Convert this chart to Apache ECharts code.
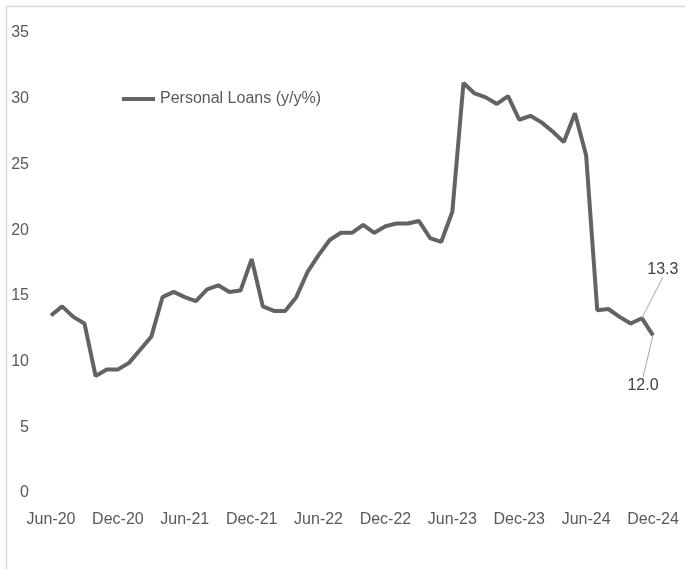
<!DOCTYPE html>
<html>
<head>
<meta charset="utf-8">
<script src="https://cdn.jsdelivr.net/npm/echarts@6/dist/echarts.min.js"></script>
<style>html,body{margin:0;padding:0;background:#fff}#c{width:685px;height:569px}</style>
</head>
<body>
<div id="c"></div>
<script>
const seriesName = 'Personal Loans (y/y%)';
const months = ['Jun-20','Jul-20','Aug-20','Sep-20','Oct-20','Nov-20','Dec-20',
'Jan-21','Feb-21','Mar-21','Apr-21','May-21','Jun-21','Jul-21','Aug-21','Sep-21','Oct-21','Nov-21','Dec-21',
'Jan-22','Feb-22','Mar-22','Apr-22','May-22','Jun-22','Jul-22','Aug-22','Sep-22','Oct-22','Nov-22','Dec-22',
'Jan-23','Feb-23','Mar-23','Apr-23','May-23','Jun-23','Jul-23','Aug-23','Sep-23','Oct-23','Nov-23','Dec-23',
'Jan-24','Feb-24','Mar-24','Apr-24','May-24','Jun-24','Jul-24','Aug-24','Sep-24','Oct-24','Nov-24','Dec-24'];
const values = [13.5,14.2,13.4,12.9,8.9,9.4,9.4,
9.9,10.9,11.9,14.9,15.3,14.9,14.6,15.5,15.8,15.3,15.4,17.8,
14.2,13.85,13.85,14.9,16.8,18.1,19.25,19.8,19.8,20.4,19.8,20.3,
20.5,20.5,20.7,19.4,19.1,21.4,31.2,30.4,30.1,29.6,30.2,28.4,
28.7,28.2,27.5,26.7,28.9,25.7,13.9,14.0,13.4,12.9,13.3,12.0];
const labelledIdx = [53, 54];
const yTicks = [0,5,10,15,20,25,30,35];

const FONT = '"Liberation Sans Narrow", "Liberation Sans", Arial, sans-serif';
const data = values.map((v, i) => {
  if (i === labelledIdx[0]) return {value: v, label: {show: true, position: 'top', distance: 0, formatter: v.toFixed(1)}};
  if (i === labelledIdx[1]) return {value: v, label: {show: true, position: 'bottom', distance: 0, formatter: v.toFixed(1)}};
  return v;
});

const chart = echarts.init(document.getElementById('c'), null, {renderer: 'canvas'});
chart.setOption({
  animation: false,
  backgroundColor: '#fff',
  graphic: [{type: 'rect', left: 4, top: 4, shape: {width: 720, height: 620}, style: {fill: 'none', stroke: '#d9d9d9', lineWidth: 1.5}, silent: true}],
  grid: {left: 51, right: 32, top: 33, bottom: 76},
  legend: {
    data: [{name: seriesName, icon: 'rect'}],
    left: 117, top: 86, itemWidth: 33, itemHeight: 4, itemGap: 3,
    textStyle: {fontFamily: FONT, fontSize: 16, color: '#595959'}
  },
  xAxis: {
    type: 'category', data: months, boundaryGap: false,
    axisLine: {show: false}, axisTick: {show: false}, splitLine: {show: false},
    axisLabel: {interval: 5, margin: 19, fontFamily: FONT, fontSize: 16, color: '#595959'}
  },
  yAxis: {
    type: 'value', min: yTicks[0], max: yTicks[yTicks.length - 1], interval: 5,
    axisLine: {show: false}, axisTick: {show: false}, splitLine: {show: false},
    axisLabel: {margin: 22, fontFamily: FONT, fontSize: 16, color: '#595959'}
  },
  series: [{
    name: seriesName, type: 'line', data: data, showSymbol: true, symbol: 'circle', symbolSize: 0.1,
    lineStyle: {color: '#636363', width: 4}, itemStyle: {color: '#636363'},
    label: {fontFamily: FONT, fontSize: 16, color: '#404040'},
    labelLine: {show: true, lineStyle: {color: '#a6a6a6', width: 1}},
    labelLayout: function (p) {
      if (p.dataIndex === labelledIdx[0]) return {dx: 21, dy: -41};
      if (p.dataIndex === labelledIdx[1]) return {dx: -10, dy: 42};
      return {};
    }
  }]
});
</script>
</body>
</html>
